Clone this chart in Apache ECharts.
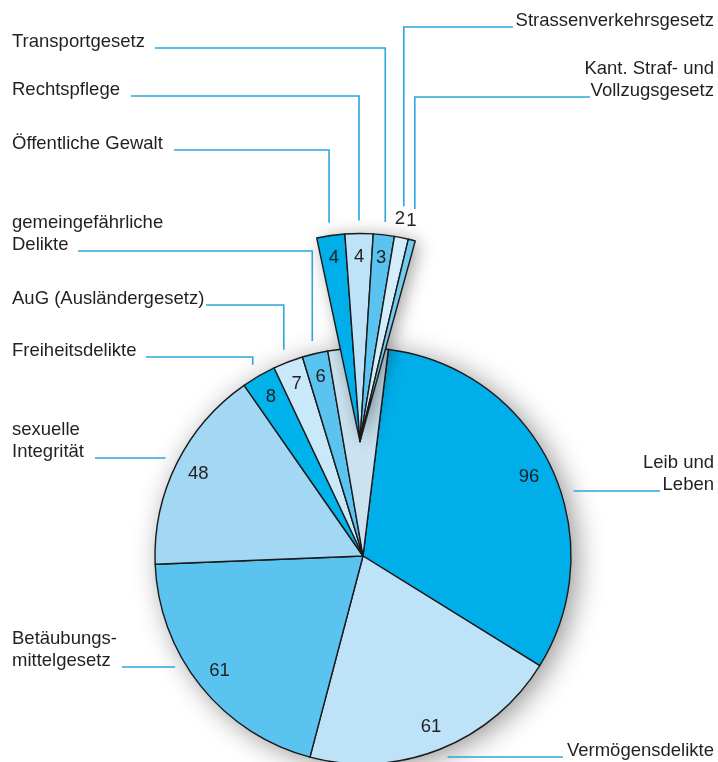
<!DOCTYPE html>
<html>
<head>
<meta charset="utf-8">
<script src="https://cdn.jsdelivr.net/npm/echarts@6/dist/echarts.min.js"></script>
<style>
  html, body { margin: 0; padding: 0; background: #fff; }
  #main { width: 718px; height: 762px; }
</style>
</head>
<body>
<div id="main"></div>
<script>
// main pie, clockwise from the top
const mainNames = ['Leib und\nLeben', 'Vermögensdelikte', 'Betäubungs-\nmittelgesetz', 'sexuelle\nIntegrität',
  'Freiheitsdelikte', 'AuG (Ausländergesetz)', 'gemeingefährliche\nDelikte'];
const mainValues = [96, 61, 61, 48, 8, 7, 6];
// pulled-out group
const groupNames = ['Öffentliche Gewalt', 'Rechtspflege', 'Transportgesetz', 'Strassenverkehrsgesetz',
  'Kant. Straf- und\nVollzugsgesetz'];
const groupValues = [4, 4, 3, 2, 1];

const mainColors = ['#00aeea', '#bee3f8', '#5ac3f0', '#a3d8f5', '#00b4eb', '#c9e8f9', '#5ac3f0'];
const groupColors = ['#00aeea', '#bee3f8', '#5ac3f0', '#d4edfa', '#72caf1'];

const MAIN_C = [363, 556], GROUP_C = [360, 441.5], R = 208;
const MAIN_START = 83, GROUP_START = 102, GROUP_END = 74.6;
const FONT = '"Liberation Sans", Arial, Helvetica, sans-serif';
const FS = 18.5;
const INK = '#231f20', LEAD = '#2ba6de', EDGE = '#1a1a1a';

const sum = a => a.reduce((s, v) => s + v, 0);
const groupTotal = sum(groupValues);
const mainTotal = sum(mainValues) + groupTotal;

function midAngle(values, i, total, cw0, span) {
  const before = sum(values.slice(0, i));
  return cw0 + (before + values[i] / 2) / total * span;
}
const mainMid = i => midAngle(mainValues, i, mainTotal, 90 - MAIN_START, 360);
const groupMid = i => midAngle(groupValues, i, groupTotal, 90 - GROUP_START, GROUP_START - GROUP_END);

function polar(c, r, deg) {
  const a = deg * Math.PI / 180;
  return [c[0] + r * Math.sin(a), c[1] - r * Math.cos(a)];
}

// value labels sit near the rim; tiny group slices get theirs just outside
function valueLayout(c, count, midFn, placeFn) {
  return function (p) {
    if (p.dataIndex >= count) return;
    const pl = placeFn(p.dataIndex);
    const pt = polar(c, pl[0], midFn(p.dataIndex) + pl[1]);
    return { x: pt[0], y: pt[1], align: 'center', verticalAlign: 'middle' };
  };
}

const valueLabel = { show: true, position: 'inside', formatter: '{c}', color: INK, fontSize: FS, fontFamily: FONT };

// leader lines: text spot, baseline of last line, start of line, and what it points to
const leaders = [
  { src: 'g', i: 2, tx: 12, align: 'left', base: 48, lx: 155 },
  { src: 'g', i: 1, tx: 12, align: 'left', base: 96, lx: 131 },
  { src: 'g', i: 0, tx: 12, align: 'left', base: 150, lx: 174 },
  { src: 'm', i: 6, tx: 12, align: 'left', base: 251, lx: 78 },
  { src: 'm', i: 5, tx: 12, align: 'left', base: 305, lx: 206 },
  { src: 'm', i: 4, tx: 12, align: 'left', base: 357, lx: 146 },
  { src: 'm', i: 3, tx: 12, align: 'left', base: 458, lx: 95, side: -1, gap: 14 },
  { src: 'm', i: 2, tx: 12, align: 'left', base: 667, lx: 122, side: -1, gap: 12 },
  { src: 'm', i: 1, tx: 714, align: 'right', base: 757, lx: 563, side: 1, gap: 31 },
  { src: 'm', i: 0, tx: 714, align: 'right', base: 491, lx: 660, side: 1, gap: 13 },
  { src: 'g', i: 3, tx: 714, align: 'right', base: 27, lx: 513, rEnd: 240 },
  { src: 'g', i: 4, tx: 714, align: 'right', base: 97, lx: 590, rEnd: 240 }
];

const graphics = [];
leaders.forEach(function (L) {
  const isG = L.src === 'g';
  const name = isG ? groupNames[L.i] : mainNames[L.i];
  graphics.push({
    type: 'text', z: 20,
    style: {
      text: name, x: L.tx, y: L.base + 4.5, fill: INK, font: FS + 'px ' + FONT,
      align: L.align, verticalAlign: 'bottom', lineHeight: 21.5
    }
  });
  let pts;
  if (L.side) {
    const dy = L.base - MAIN_C[1];
    const ex = MAIN_C[0] + L.side * (Math.sqrt(R * R - dy * dy) + L.gap);
    pts = [[L.lx, L.base], [ex, L.base]];
  } else {
    const c = isG ? GROUP_C : MAIN_C;
    const ang = isG ? groupMid(L.i) : mainMid(L.i);
    const ax = polar(c, 220, ang)[0];
    const ey = polar(c, L.rEnd || 221, ang)[1];
    pts = [[L.lx, L.base], [ax, L.base], [ax, ey]];
  }
  graphics.push({
    type: 'polyline', z: 20,
    shape: { points: pts },
    style: { stroke: LEAD, lineWidth: 1.6, fill: null }
  });
});

const chart = echarts.init(document.getElementById('main'));

const mainData = mainValues.map((v, i) => ({
  value: v, name: mainNames[i], itemStyle: { color: mainColors[i] }
}));
mainData.push({
  value: groupTotal, name: '',
  itemStyle: { color: '#cbe3f0' }, label: { show: false }
});
const groupData = groupValues.map((v, i) => ({
  value: v, name: groupNames[i], itemStyle: { color: groupColors[i] }
}));

const common = { type: 'pie', animation: false, emphasis: { disabled: true }, labelLine: { show: false } };

chart.setOption({
  backgroundColor: '#ffffff',
  series: [
    Object.assign({}, common, {
      z: 1, silent: true, center: MAIN_C, radius: R, label: { show: false },
      data: [{ value: mainTotal }],
      itemStyle: { color: '#fff', shadowBlur: 28, shadowColor: 'rgba(0,0,0,0.42)', shadowOffsetX: 6, shadowOffsetY: 4 }
    }),
    Object.assign({}, common, {
      z: 2, center: MAIN_C, radius: R, startAngle: MAIN_START, data: mainData,
      itemStyle: { borderColor: EDGE, borderWidth: 1.4 },
      label: valueLabel,
      labelLayout: valueLayout(MAIN_C, mainValues.length, mainMid, () => [184, 0])
    }),
    Object.assign({}, common, {
      z: 3, silent: true, center: GROUP_C, radius: R, startAngle: GROUP_START, endAngle: GROUP_END,
      label: { show: false }, data: [{ value: groupTotal }],
      itemStyle: { color: '#fff', shadowBlur: 18, shadowColor: 'rgba(0,0,0,0.38)', shadowOffsetX: 4, shadowOffsetY: 2 }
    }),
    Object.assign({}, common, {
      z: 4, center: GROUP_C, radius: R, startAngle: GROUP_START, endAngle: GROUP_END, data: groupData,
      itemStyle: { borderColor: EDGE, borderWidth: 1.4 },
      label: valueLabel,
      labelLayout: valueLayout(GROUP_C, groupValues.length, groupMid,
        i => (groupValues[i] < 3 ? [226, -1.3] : [185, 0]))
    })
  ],
  graphic: { elements: graphics }
});
</script>
</body>
</html>
